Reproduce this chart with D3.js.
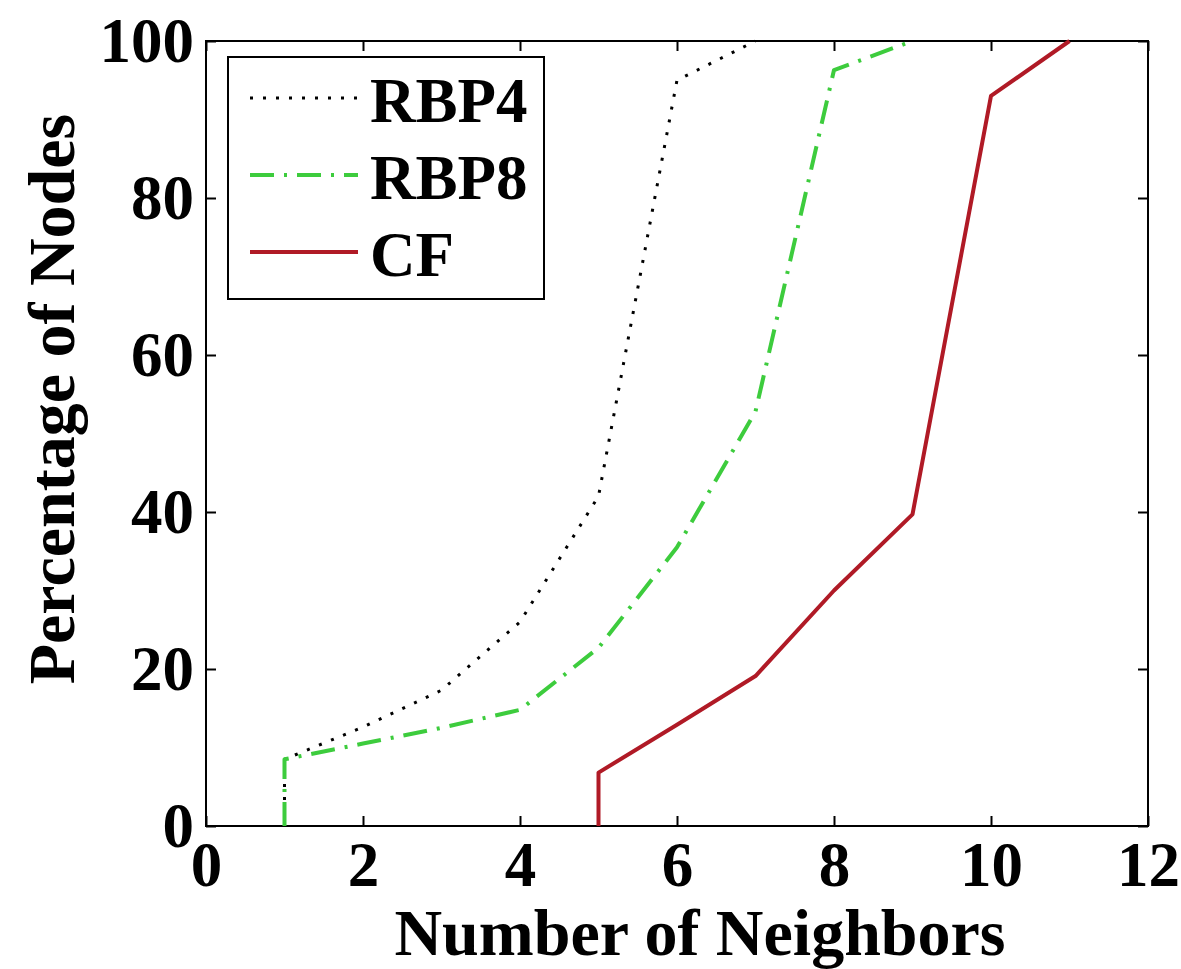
<!DOCTYPE html>
<html lang="en">
<head>
<meta charset="utf-8">
<title>Number of Neighbors</title>
<script src="https://d3js.org/d3.v7.min.js"></script>
<style>
    body{
        margin: 0;
        background: #ffffff;
    }
    text{
        font-family: 'Liberation Serif', 'Times New Roman', serif;
        font-weight: bold;
        fill: #000;
    }
    .axis path, .axis line{
        stroke: #000;
        stroke-width: 2;
    }
</style>
</head>
<body>
<svg width="1181" height="969"></svg>
<script>
    // data
    var xTicks = [0, 2, 4, 6, 8, 10, 12];
    var yTicks = [0, 20, 40, 60, 80, 100];

    var rbp4X = [1, 1, 2, 3, 4, 5, 6, 7];
    var rbp4Y = [0, 8.5, 12.6, 17.3, 26, 42, 95, 100];

    var rbp8X = [1, 1, 2, 3, 4, 5, 6, 7, 8, 9];
    var rbp8Y = [0, 8.5, 10.5, 12.5, 14.8, 22.7, 35.5, 52.8, 96.3, 100];

    var cfX = [5, 5, 6, 7, 8, 9, 10, 11];
    var cfY = [0, 6.8, 12.9, 19.1, 30, 39.7, 93, 100];

    var series = [
        {name: "RBP4", xs: rbp4X, ys: rbp4Y, color: "#000000", width: 3, dash: "3,10"},
        {name: "RBP8", xs: rbp8X, ys: rbp8Y, color: "#3dcc3d", width: 4, dash: "24,10,3,10"},
        {name: "CF",   xs: cfX,   ys: cfY,   color: "#b01a26", width: 4, dash: null}
    ];

    var svg = d3.select("svg"),
        margin = {top: 41, right: 33, bottom: 143, left: 206},
        width = +svg.attr("width") - margin.left - margin.right,
        height = +svg.attr("height") - margin.top - margin.bottom,
        g = svg.append("g").attr("transform", "translate(" + margin.left + "," + margin.top + ")");

    var x = d3.scaleLinear().domain([0, 12]).range([0, width]);
    var y = d3.scaleLinear().domain([0, 100]).range([height, 0]);

    // axes with inward ticks, box on
    g.append("g")
        .attr("class", "axis")
        .attr("transform", "translate(0," + height + ")")
        .call(d3.axisBottom(x).tickValues(xTicks).tickSizeInner(-10).tickSizeOuter(0).tickPadding(15))
        .selectAll("text")
        .style("font-size", "63px")
        .attr("dy", "0.71em");
    g.append("g")
        .attr("class", "axis")
        .call(d3.axisTop(x).tickValues(xTicks).tickSizeInner(-10).tickSizeOuter(0).tickFormat(""));
    g.append("g")
        .attr("class", "axis")
        .call(d3.axisLeft(y).tickValues(yTicks).tickSizeInner(-10).tickSizeOuter(0).tickPadding(12))
        .selectAll("text")
        .style("font-size", "63px");
    g.append("g")
        .attr("class", "axis")
        .attr("transform", "translate(" + width + ",0)")
        .call(d3.axisRight(y).tickValues(yTicks).tickSizeInner(-10).tickSizeOuter(0).tickFormat(""));
    g.selectAll(".axis .domain").remove();
    g.append("rect")
        .attr("width", width)
        .attr("height", height)
        .attr("fill", "none")
        .attr("stroke", "#000")
        .attr("stroke-width", 2);

    // axis titles
    svg.append("text")
        .attr("x", 700)
        .attr("y", 955)
        .attr("text-anchor", "middle")
        .style("font-size", "66px")
        .text("Number of Neighbors");
    svg.append("text")
        .attr("transform", "translate(74,399) rotate(-90)")
        .attr("text-anchor", "middle")
        .style("font-size", "66px")
        .text("Percentage of Nodes");

    // curves
    var line = d3.line()
        .x(function(d) { return x(d[0]); })
        .y(function(d) { return y(d[1]); });

    series.forEach(function(s){
        var pts = s.xs.map(function(v, i){ return [v, s.ys[i]]; });
        g.append("path")
            .datum(pts)
            .attr("d", line)
            .attr("fill", "none")
            .attr("stroke", s.color)
            .attr("stroke-width", s.width)
            .attr("stroke-dasharray", s.dash)
            .attr("stroke-linejoin", "round");
    });

    // legend
    var legend = svg.append("g").attr("transform", "translate(228,57)");
    legend.append("rect")
        .attr("width", 316)
        .attr("height", 242)
        .attr("fill", "#fff")
        .attr("stroke", "#000")
        .attr("stroke-width", 2);
    series.forEach(function(s, i){
        var row = legend.append("g").attr("transform", "translate(0," + (41 + i * 77) + ")");
        row.append("line")
            .attr("x1", 22).attr("x2", 130)
            .attr("stroke", s.color)
            .attr("stroke-width", s.width)
            .attr("stroke-dasharray", s.dash);
        row.append("text")
            .attr("x", 142)
            .attr("y", 24)
            .style("font-size", "63px")
            .text(s.name);
    });
</script>
</body>
</html>
